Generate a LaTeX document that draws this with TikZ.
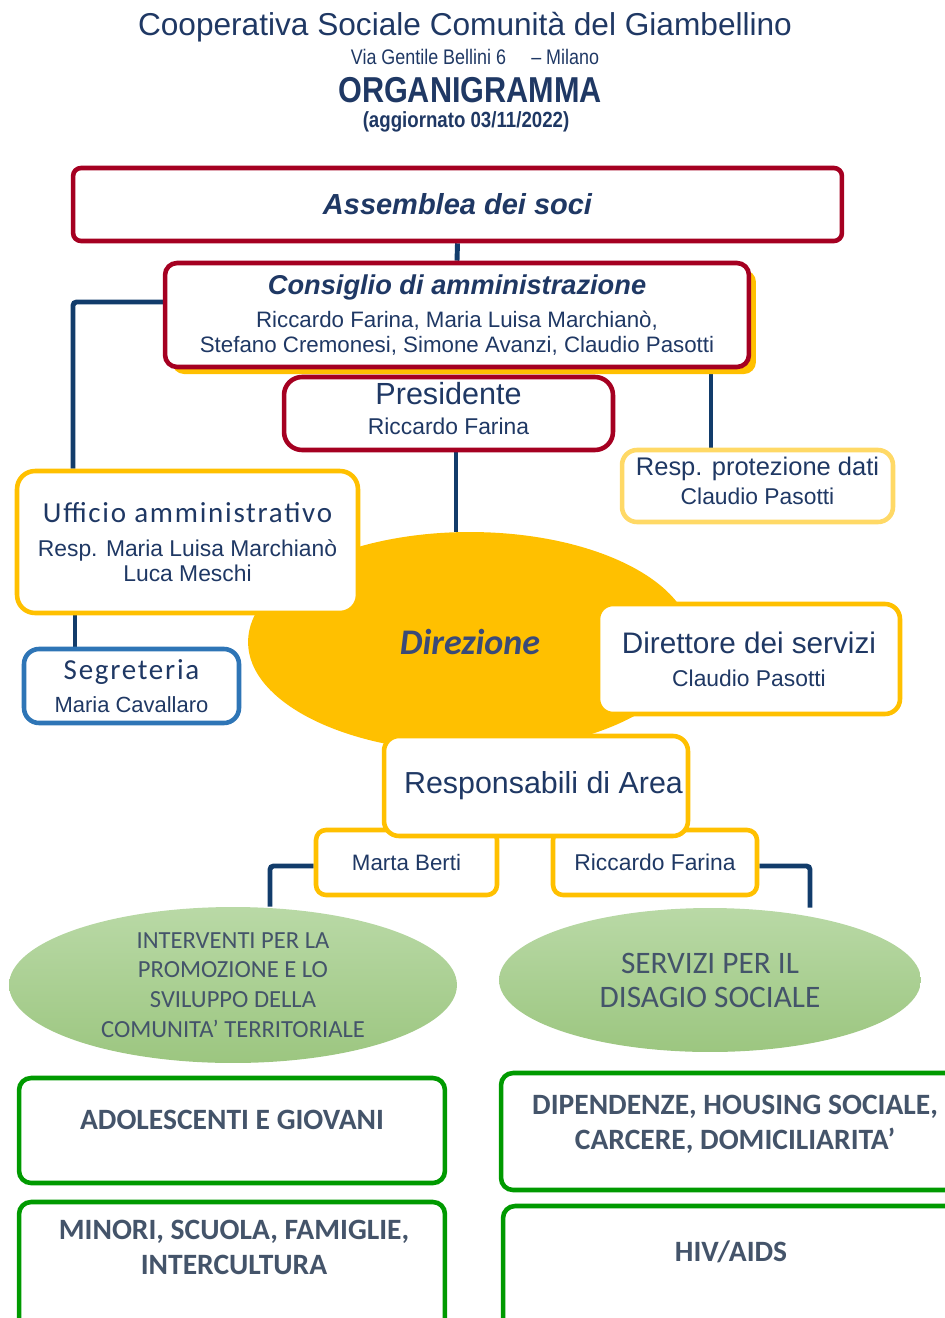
\documentclass[tikz,border=0pt]{standalone}
\usepackage{fontspec}
\setmainfont{Liberation Sans}
\newfontfamily\calib{Carlito}
\newfontfamily\calibsp{Carlito}[LetterSpace=6]
\newfontfamily\narrow{Liberation Sans}[FakeStretch=0.85]
\usetikzlibrary{shapes.geometric, shadows}

\definecolor{navy}{HTML}{1F3864}
\definecolor{linkblue}{HTML}{123C6B}
\definecolor{bordeaux}{HTML}{A50021}
\definecolor{gold}{HTML}{FFC000}
\definecolor{paleGold}{HTML}{FFD966}
\definecolor{segblue}{HTML}{2E75B6}
\definecolor{areagreen}{HTML}{009A00}
\definecolor{slate}{HTML}{44546A}
\definecolor{direz}{HTML}{3A4A78}
\definecolor{leafTop}{HTML}{B9D9A6}
\definecolor{leafBot}{HTML}{9CC680}

\newcommand{\fsz}[2]{\fontsize{#1}{#2}\selectfont}
\pgfdeclarelayer{back}
\pgfsetlayers{back,main}

\tikzset{
  heading/.style={text=navy, inner sep=0pt},
  dims/.style 2 args={minimum width=#1cm, minimum height=#2cm},
  orgbox/.style={draw, line width=2.6pt, fill=white, align=center, text=navy, inner sep=0pt, rounded corners=0.3cm},
  redbox/.style={orgbox, draw=bordeaux},
  goldbox/.style={orgbox, draw=gold},
  areabox/.style={orgbox, draw=areagreen, rounded corners=0.24cm},
  areatext/.style={text=slate, align=center, inner sep=0pt, font=\calib\bfseries\fsz{16.8}{20}},
  leaf/.style={ellipse, top color=leafTop, bottom color=leafBot, text=slate, align=center, inner sep=0pt},
  link/.style={draw=linkblue, line width=2.8pt, rounded corners=2pt}
}

\begin{document}
\begin{tikzpicture}[x=0.02cm, y=-0.02cm]
\useasboundingbox (0,0) rectangle (945,1318);

% heading
\node[heading, font=\fsz{18}{21}] (coop) at (465,27) {Cooperativa Sociale Comunità del Giambellino};
\node[heading, font=\narrow\fsz{12}{14}] (addr) at (475,57) {Via Gentile Bellini 6\hspace{1.2em}– Milano};
\node[heading, font=\narrow\bfseries\fsz{20.5}{24}] (orga) at (470,90) {ORGANIGRAMMA};
\node[heading, font=\narrow\bfseries\fsz{12.5}{15}] (date) at (466,122) {(aggiornato 03/11/2022)};

% governance
\node[redbox, rounded corners=0.16cm, dims={15.38}{1.46}, font=\bfseries\itshape\fsz{16.5}{19}] (ass) at (457.5,204.5) {Assemblea dei soci};
\node[redbox, rounded corners=0.24cm, dims={11.68}{2.08}, font=\fsz{12.7}{14.2},
  drop shadow={shadow xshift=4pt, shadow yshift=-4pt, fill=gold, opacity=1}] (cda) at (457,315)
  {{\bfseries\itshape\fsz{15.5}{18}Consiglio di amministrazione}\\[4.5pt]
   Riccardo Farina, Maria Luisa Marchianò,\\ Stefano Cremonesi, Simone Avanzi, Claudio Pasotti};
\node[redbox, rounded corners=0.36cm, dims={6.58}{1.46}, font=\fsz{13}{15}, text depth=6pt] (pres) at (448.5,413.5)
  {{\fsz{17.4}{20}Presidente}\\[2pt] Riccardo Farina};
\node[orgbox, draw=paleGold, dims={5.42}{1.44}, font=\fsz{13}{15}, text depth=6pt] (rpd) at (757.5,486)
  {{\fsz{14.5}{17}Resp. protezione dati}\\[1.4pt] Claudio Pasotti};

% direzione
\node[ellipse, fill=gold, minimum width=8.88cm, minimum height=4.4cm, inner sep=0pt, text=direz,
  font=\calib\bfseries\itshape\fsz{20.5}{24}] (dir) at (470,642) {Direzione};
\node[goldbox, rounded corners=0.36cm, dims={6.82}{2.84}, font=\fsz{13}{14.2}] (uff) at (187.5,542)
  {{\calibsp\fsz{16.5}{19}Ufficio amministrativo}\\[5pt] Resp. Maria Luisa Marchianò\\ Luca Meschi};
\node[orgbox, draw=segblue, dims={4.3}{1.48}, font=\fsz{12.5}{14.2}] (seg) at (131.5,686)
  {{\calibsp\fsz{16.5}{19}Segreteria}\\[4.5pt] Maria Cavallaro};
\node[goldbox, dims={6.04}{2.2}, font=\fsz{13}{14.2}] (dds) at (749,659)
  {{\fsz{16.9}{19}Direttore dei servizi}\\[4.5pt] Claudio Pasotti};

% responsabili di area
\node[goldbox, rounded corners=0.2cm, dims={3.62}{1.3}, font=\fsz{12.7}{15}] (mb) at (406.5,862.5) {Marta Berti};
\node[goldbox, rounded corners=0.2cm, dims={4.08}{1.3}, font=\fsz{13}{15}] (rf) at (655,862.5) {Riccardo Farina};
\node[goldbox, dims={6.08}{2.0}, font=\fsz{17.3}{20}] (rda) at (536,786) {\hspace{0.3cm}Responsabili di Area};

% aree
\node[leaf, dims={8.96}{3.12}, font=\calib\fsz{14}{17}] (int) at (233,985)
  {INTERVENTI PER LA\\ PROMOZIONE E LO\\ SVILUPPO DELLA\\ COMUNITA’ TERRITORIALE};
\node[leaf, dims={8.44}{2.88}, font=\calib\fsz{17.8}{19.3}] (sds) at (710,980)
  {SERVIZI PER IL\\ DISAGIO SOCIALE};

% servizi
\node[areabox, dims={8.52}{2.1}] (ado) at (232,1130.5) {};
\node[areatext] (adoT) at (232,1120) {ADOLESCENTI E GIOVANI};
\node[areabox, dims={8.52}{2.76}] (minori) at (232,1271) {};
\node[areatext] (minoriT) at (234,1247.5) {MINORI, SCUOLA, FAMIGLIE,\\ INTERCULTURA};
\node[areabox, dims={9.36}{2.34}] (dip) at (735,1131.5) {};
\node[areatext] (dipT) at (735,1124.5) {DIPENDENZE, HOUSING SOCIALE,\\ CARCERE, DOMICILIARITA’};
\node[areabox, dims={9.32}{2.68}] (hiv) at (736,1273) {};
\node[areatext] (hivT) at (731,1252) {HIV/AIDS};

% connectors
\begin{pgfonlayer}{back}
\draw[link] (ass.south) -- (cda.north);
\draw[link] (cda.west |- 0,302) -| (uff.north -| 73,0);
\draw[link] (uff.south -| 75,0) -- (seg.north -| 75,0);
\draw[link] (cda.south -| 711,0) -- (rpd.north -| 711,0);
\draw[link] (pres.south -| 456,0) -- (dir.north -| 456,0);
\draw[link] (mb.west |- 0,866) -| (int.north -| 270,0);
\draw[link] (rf.east |- 0,866) -| (sds.north -| 810,0);
\end{pgfonlayer}

\end{tikzpicture}
\end{document}
